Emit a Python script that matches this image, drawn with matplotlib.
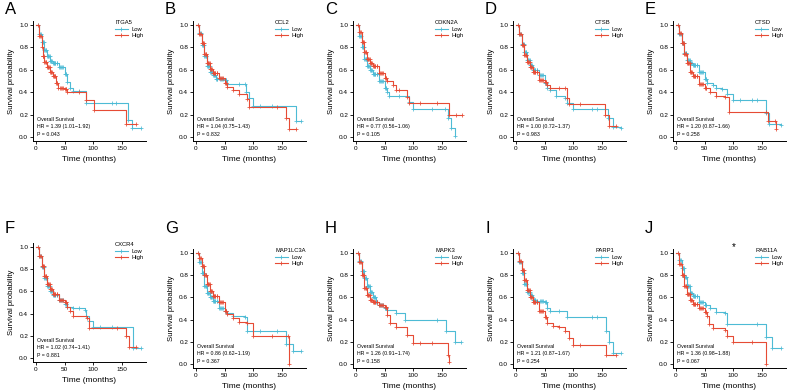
import matplotlib
matplotlib.use("Agg")
import matplotlib.pyplot as plt
from matplotlib.lines import Line2D
import numpy as np

plt.rcParams['font.family'] = ['Liberation Sans', 'DejaVu Sans']

letters = ["A", "B", "C", "D", "E", "F", "G", "H", "I", "J"]
genes = ["ITGA5", "CCL2", "CDKN2A", "CTSB", "CTSD",
         "CXCR4", "MAP1LC3A", "MAPK3", "PARP1", "RAB11A"]
hr = [1.39, 1.04, 0.77, 1.00, 1.20, 1.02, 0.86, 1.26, 1.21, 1.36]
ci_lo = [1.01, 0.75, 0.56, 0.72, 0.87, 0.74, 0.62, 0.91, 0.87, 0.98]
ci_hi = [1.92, 1.43, 1.06, 1.37, 1.66, 1.41, 1.19, 1.74, 1.67, 1.88]
pvals = ["0.043", "0.832", "0.105", "0.983", "0.258",
         "0.881", "0.367", "0.158", "0.254", "0.067"]
x_ticks = [0, 50, 100, 150]
y_ticks = [0.0, 0.2, 0.4, 0.6, 0.8, 1.0]
# approximate censoring times (months) seen as dense "+" marks early in follow-up
censor_times = [3, 7, 9, 12, 13, 14, 16, 17, 18, 21, 22, 23, 24, 26, 27, 28, 31, 32,
                33, 34, 36, 37, 42, 44, 46, 48, 52, 53]

# (time in months, survival probability) knots of each Kaplan-Meier curve
ITGA5_low = [(0, 1.0), (5, 0.92), (10, 0.85), (15, 0.78), (20, 0.72), (25, 0.68), (30, 0.66),
             (40, 0.62), (50, 0.56), (55, 0.49), (60, 0.44), (65, 0.41), (75, 0.41), (87, 0.30),
             (132, 0.30), (140, 0.30), (160, 0.15), (168, 0.08), (183, 0.08)]
ITGA5_high = [(0, 1.0), (5, 0.90), (10, 0.80), (12, 0.72), (15, 0.67), (20, 0.62), (25, 0.58),
              (30, 0.54), (35, 0.48), (38, 0.44), (50, 0.43), (55, 0.40), (75, 0.40), (87, 0.33),
              (102, 0.24), (157, 0.12), (175, 0.12)]
CCL2_low = [(0, 1.0), (5, 0.93), (10, 0.82), (15, 0.72), (20, 0.63), (25, 0.58), (30, 0.55),
            (35, 0.52), (50, 0.51), (55, 0.47), (75, 0.47), (85, 0.47), (88, 0.40), (92, 0.35),
            (100, 0.28), (112, 0.28), (133, 0.28), (175, 0.14), (183, 0.14)]
CCL2_high = [(0, 1.0), (5, 0.92), (10, 0.84), (15, 0.74), (20, 0.66), (25, 0.61), (30, 0.57),
             (40, 0.53), (50, 0.48), (55, 0.45), (65, 0.42), (75, 0.38), (90, 0.34), (92, 0.27),
             (142, 0.27), (157, 0.17), (162, 0.07), (175, 0.07)]
CDKN2A_low = [(0, 1.0), (5, 0.90), (10, 0.80), (15, 0.70), (20, 0.63), (25, 0.60), (30, 0.56),
              (40, 0.50), (50, 0.44), (55, 0.40), (57, 0.37), (75, 0.37), (90, 0.37), (92, 0.31),
              (100, 0.25), (133, 0.25), (155, 0.25), (160, 0.17), (165, 0.08), (172, 0.01)]
CDKN2A_high = [(0, 1.0), (5, 0.94), (10, 0.85), (15, 0.76), (20, 0.70), (25, 0.66), (30, 0.63),
               (40, 0.57), (50, 0.53), (55, 0.50), (65, 0.46), (70, 0.42), (75, 0.42), (90, 0.36),
               (92, 0.30), (112, 0.30), (142, 0.30), (162, 0.20), (175, 0.20), (185, 0.20)]
CTSB_low = [(0, 1.0), (5, 0.92), (10, 0.83), (15, 0.76), (20, 0.69), (25, 0.64), (30, 0.60),
            (40, 0.55), (50, 0.48), (55, 0.44), (60, 0.42), (70, 0.37), (85, 0.35), (90, 0.30),
            (100, 0.25), (133, 0.25), (142, 0.25), (160, 0.17), (170, 0.09), (183, 0.08)]
CTSB_high = [(0, 1.0), (5, 0.92), (10, 0.82), (15, 0.73), (20, 0.67), (25, 0.62), (30, 0.58),
             (40, 0.51), (50, 0.49), (55, 0.46), (60, 0.44), (75, 0.44), (85, 0.44), (90, 0.35),
             (92, 0.29), (112, 0.29), (155, 0.20), (162, 0.10), (175, 0.10)]
CTSD_low = [(0, 1.0), (5, 0.92), (10, 0.84), (15, 0.75), (20, 0.69), (25, 0.66), (30, 0.64),
            (40, 0.58), (50, 0.52), (55, 0.48), (65, 0.46), (70, 0.44), (80, 0.43), (90, 0.38),
            (100, 0.33), (112, 0.33), (133, 0.33), (142, 0.33), (158, 0.21), (163, 0.12), (183, 0.11)]
CTSD_high = [(0, 1.0), (5, 0.93), (10, 0.84), (15, 0.74), (20, 0.66), (25, 0.58), (30, 0.54),
             (40, 0.47), (50, 0.44), (60, 0.40), (70, 0.37), (85, 0.36), (92, 0.22), (157, 0.22),
             (160, 0.14), (172, 0.14), (175, 0.07)]
CXCR4_low = [(0, 1.0), (5, 0.92), (10, 0.82), (15, 0.72), (20, 0.65), (25, 0.60), (30, 0.57),
             (40, 0.52), (50, 0.49), (55, 0.46), (65, 0.45), (75, 0.45), (85, 0.43), (88, 0.38),
             (92, 0.33), (100, 0.28), (112, 0.28), (133, 0.28), (170, 0.09), (183, 0.09)]
CXCR4_high = [(0, 1.0), (5, 0.92), (10, 0.83), (15, 0.74), (20, 0.67), (25, 0.62), (30, 0.58),
              (40, 0.52), (50, 0.50), (55, 0.46), (60, 0.42), (65, 0.38), (90, 0.36), (92, 0.27),
              (142, 0.27), (158, 0.20), (162, 0.10), (175, 0.10)]
MAP1LC3A_low = [(0, 1.0), (5, 0.92), (10, 0.82), (15, 0.70), (20, 0.64), (25, 0.60), (30, 0.57),
                (40, 0.50), (50, 0.48), (55, 0.46), (65, 0.43), (85, 0.42), (90, 0.30), (112, 0.30),
                (142, 0.30), (158, 0.18), (170, 0.12), (183, 0.12)]
MAP1LC3A_high = [(0, 1.0), (5, 0.95), (10, 0.88), (15, 0.80), (20, 0.72), (25, 0.66), (30, 0.61),
                 (40, 0.56), (50, 0.48), (55, 0.45), (65, 0.41), (75, 0.38), (90, 0.37), (100, 0.25),
                 (133, 0.25), (160, 0.25), (162, 0.0)]
MAPK3_low = [(0, 1.0), (5, 0.93), (10, 0.84), (15, 0.77), (20, 0.70), (25, 0.65), (30, 0.60),
             (35, 0.56), (40, 0.53), (50, 0.50), (55, 0.49), (70, 0.46), (85, 0.40), (142, 0.40),
             (157, 0.30), (172, 0.20), (183, 0.20)]
MAPK3_high = [(0, 1.0), (5, 0.92), (10, 0.80), (15, 0.68), (20, 0.62), (25, 0.58), (30, 0.56),
              (40, 0.53), (50, 0.51), (55, 0.44), (60, 0.37), (70, 0.33), (90, 0.26), (100, 0.19),
              (112, 0.19), (133, 0.19), (160, 0.08), (162, 0.02)]
PARP1_low = [(0, 1.0), (5, 0.92), (10, 0.82), (15, 0.72), (20, 0.65), (25, 0.62), (30, 0.58),
             (35, 0.57), (50, 0.56), (55, 0.50), (60, 0.48), (75, 0.48), (90, 0.42), (133, 0.42),
             (142, 0.42), (158, 0.30), (163, 0.20), (170, 0.10), (183, 0.10)]
PARP1_high = [(0, 1.0), (5, 0.93), (10, 0.85), (15, 0.76), (20, 0.67), (25, 0.60), (30, 0.56),
              (40, 0.48), (50, 0.42), (55, 0.37), (65, 0.34), (75, 0.33), (85, 0.30), (92, 0.23),
              (100, 0.17), (112, 0.17), (157, 0.08), (175, 0.08)]
RAB11A_low = [(0, 1.0), (5, 0.94), (10, 0.86), (15, 0.78), (20, 0.70), (25, 0.64), (30, 0.61),
              (40, 0.56), (50, 0.53), (60, 0.50), (70, 0.47), (85, 0.46), (90, 0.36), (142, 0.36),
              (158, 0.24), (168, 0.14), (183, 0.14)]
RAB11A_high = [(0, 1.0), (5, 0.90), (10, 0.80), (15, 0.70), (20, 0.63), (25, 0.58), (30, 0.54),
               (40, 0.50), (50, 0.47), (55, 0.43), (57, 0.36), (65, 0.32), (85, 0.31), (90, 0.25),
               (100, 0.20), (133, 0.20), (157, 0.0)]

low_curves = [ITGA5_low, CCL2_low, CDKN2A_low, CTSB_low, CTSD_low,
              CXCR4_low, MAP1LC3A_low, MAPK3_low, PARP1_low, RAB11A_low]
high_curves = [ITGA5_high, CCL2_high, CDKN2A_high, CTSB_high, CTSD_high,
               CXCR4_high, MAP1LC3A_high, MAPK3_high, PARP1_high, RAB11A_high]

LOW_C = "#4DBBD5"
HIGH_C = "#E64B35"

W, H = 791, 391
fig = plt.figure(figsize=(W / 100, H / 100), dpi=100)


def px_axes(left, top, right, bottom):
    return fig.add_axes([left / W, 1 - bottom / H, (right - left) / W, (bottom - top) / H])


def step_value(t, s, x):
    idx = np.searchsorted(t, x, side="right") - 1
    return np.asarray(s)[np.clip(idx, 0, len(s) - 1)]


for i in range(10):
    row, col = divmod(i, 5)
    left = 33 + 160 * col
    if row == 0:
        top, bottom = 21, 141
        letter_y = 10
    else:
        if col == 0:
            top, bottom = 243, 362
        else:
            top, bottom = 249, 368
        letter_y = 228
    ax = px_axes(left, top, left + 113, bottom)
    for curve, color in ((low_curves[i], LOW_C), (high_curves[i], HIGH_C)):
        t = np.array([p[0] for p in curve], dtype=float)
        s = np.array([p[1] for p in curve], dtype=float)
        ax.step(t, s, where="post", color=color, lw=0.8)
        ct = np.array([c for c in censor_times if c < t[-1]], dtype=float)
        cx = np.concatenate([t[1:], ct])
        cy = step_value(t, s, cx)
        ax.plot(cx, cy, linestyle="none", marker="+", color=color, ms=3.0, mew=0.55)
    ax.set_xlim(-5, 192)
    ax.set_ylim(-0.036, 1.035)
    ax.set_xticks(x_ticks)
    ax.set_yticks(y_ticks)
    ax.set_yticklabels([f"{v:.1f}" for v in y_ticks])
    for sp in ("top", "right"):
        ax.spines[sp].set_visible(False)
    for sp in ("left", "bottom"):
        ax.spines[sp].set_linewidth(0.7)
    ax.tick_params(labelsize=4.6, length=2, width=0.6, pad=1.5)
    ax.set_xlabel("Time (months)", fontsize=6, labelpad=4)
    ax.set_ylabel("Survival probability", fontsize=5.6, labelpad=3)
    ax.text(2, 0.16, "Overall Survival", fontsize=3.8, va="center")
    ax.text(2, 0.09, f"HR = {hr[i]:.2f} ({ci_lo[i]:.2f}\u2212{ci_hi[i]:.2f})", fontsize=3.8, va="center")
    ax.text(2, 0.02, f"P = {pvals[i]}", fontsize=3.8, va="center")
    handles = [Line2D([], [], color=LOW_C, lw=0.8, marker="+", ms=3, mew=0.6),
               Line2D([], [], color=HIGH_C, lw=0.8, marker="+", ms=3, mew=0.6)]
    ax.legend(handles, ["Low", "High"], title=genes[i], loc="upper left",
              bbox_to_anchor=(0.69, 1.04), frameon=False, fontsize=4.2,
              title_fontsize=4.2, handlelength=2.2, handletextpad=0.6,
              labelspacing=0.25, borderpad=0.2, alignment="left")
    fig.text((left - 28) / W, 1 - letter_y / H, letters[i], fontsize=12, va="center", ha="left")
    if genes[i] == "RAB11A":
        ax.text(101, 1.05, "*", fontsize=7, ha="center", va="center", clip_on=False)

fig.savefig("out.png", dpi=100)
